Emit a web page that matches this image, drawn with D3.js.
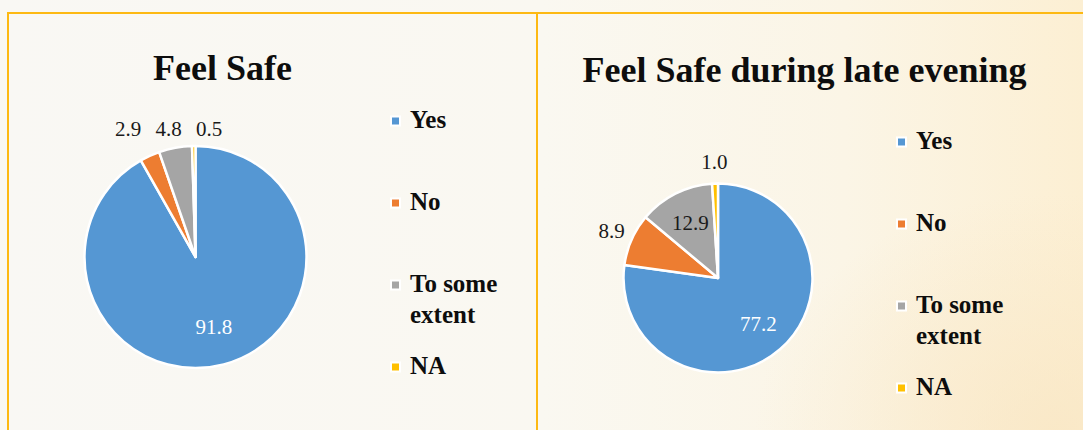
<!DOCTYPE html>
<html>
<head>
<meta charset="utf-8">
<script src="https://cdn.jsdelivr.net/npm/d3@7"></script>
<style>
  html, body { margin: 0; padding: 0; background: #FAF8F2; }
  svg { display: block; }
</style>
</head>
<body>
<svg id="chart" width="1083" height="430"></svg>
<script>
// ---- data ----
const categories = ["Yes", "No", "To some extent", "NA"];
const feelSafe = [91.8, 2.9, 4.8, 0.5];
const feelSafeEvening = [77.2, 8.9, 12.9, 1.0];
const titles = ["Feel Safe", "Feel Safe during late evening"];

// ---- styles ----
const sliceColors = ["#5597D3", "#ED7D31", "#A5A5A5", "#FFC000"];
const borderColor = "#FDB913";
const serif = "'Liberation Serif', 'DejaVu Serif', serif";

const svg = d3.select("#chart");
const W = 1083, H = 430;

// background gradients
const defs = svg.append("defs");
const bg = defs.append("linearGradient").attr("id", "bg").attr("x1", "0").attr("x2", "1").attr("y1", "0").attr("y2", "0");
bg.append("stop").attr("offset", "0").attr("stop-color", "#F9F8F4");
bg.append("stop").attr("offset", "0.5").attr("stop-color", "#FAF8F1");
bg.append("stop").attr("offset", "0.78").attr("stop-color", "#FBF5E6");
bg.append("stop").attr("offset", "1").attr("stop-color", "#FCEFD3");
const warm = defs.append("radialGradient").attr("id", "warm").attr("cx", "0.95").attr("cy", "1").attr("r", "0.55");
warm.append("stop").attr("offset", "0").attr("stop-color", "#F9E6C3").attr("stop-opacity", 0.75);
warm.append("stop").attr("offset", "1").attr("stop-color", "#F9E6C3").attr("stop-opacity", 0);

svg.append("rect").attr("width", W).attr("height", H).attr("fill", "url(#bg)");
svg.append("rect").attr("x", 537).attr("width", W - 537).attr("height", H).attr("fill", "url(#warm)");

// panel borders
svg.append("path")
  .attr("d", `M8,${H + 5} L8,13 L${W + 5},13 M537,13 L537,${H + 5}`)
  .attr("fill", "none").attr("stroke", borderColor).attr("stroke-width", 2);

const panels = [
  { values: feelSafe, title: titles[0], titleX: 222.5, titleY: 80,
    cx: 195.5, cy: 257, r: 111, legendX: 391, legendY: 128 },
  { values: feelSafeEvening, title: titles[1], titleX: 804.5, titleY: 81.5,
    cx: 718, cy: 278, r: 94.5, legendX: 897, legendY: 149 }
];

const pie = d3.pie().sort(null).value(d => d.value).startAngle(0).endAngle(2 * Math.PI);

panels.forEach(p => {
  const g = svg.append("g");

  g.append("text")
    .attr("x", p.titleX).attr("y", p.titleY)
    .attr("text-anchor", "middle")
    .attr("font-family", serif).attr("font-weight", "bold").attr("font-size", 36)
    .attr("fill", "#0d0d0d")
    .text(p.title);

  const rows = categories.map((c, i) => ({ cat: c, value: p.values[i], color: sliceColors[i] }));
  const arcs = pie(rows);
  const arc = d3.arc().innerRadius(0).outerRadius(p.r);

  const pg = g.append("g").attr("transform", `translate(${p.cx},${p.cy})`);
  pg.selectAll("path").data(arcs).join("path")
    .attr("d", arc)
    .attr("fill", d => d.data.color)
    .attr("stroke", "#fff").attr("stroke-width", 2.5).attr("stroke-linejoin", "round");

  // labels
  const inArc = d3.arc().innerRadius(p.r * 0.65).outerRadius(p.r * 0.65);
  const outArc = d3.arc().innerRadius(p.r + 22).outerRadius(p.r + 22);
  const labels = arcs.map(d => {
    const inside = d.data.value >= 10;
    const [x, y] = (inside ? inArc : outArc).centroid(d);
    return { d, inside, x, y, text: d.data.value.toFixed(1),
      color: inside ? (d.data.cat === "Yes" ? "#ffffff" : "#1a1a1a") : "#1a1a1a" };
  });

  // spread colliding outside labels horizontally (like the spreadsheet's layout)
  const minGap = 40.5;
  const outs = labels.filter(l => !l.inside).sort((a, b) => a.x - b.x);
  let groups = outs.map(l => [l]);
  let merged = true;
  while (merged) {
    merged = false;
    for (let i = 0; i < groups.length - 1; i++) {
      const a = groups[i], b = groups[i + 1];
      const ax = d3.mean(a, l => l.x) + (a.length - 1) * minGap / 2;
      const bx = d3.mean(b, l => l.x) - (b.length - 1) * minGap / 2;
      const close = bx - ax < minGap && Math.abs(d3.mean(a, l => l.y) - d3.mean(b, l => l.y)) < 30;
      if (close) { groups.splice(i, 2, a.concat(b)); merged = true; break; }
    }
  }
  groups.forEach(gr => {
    if (gr.length < 2) return;
    const mx = d3.mean(gr, l => l.x), my = d3.mean(gr, l => l.y);
    gr.forEach((l, k) => { l.x = mx + (k - (gr.length - 1) / 2) * minGap; l.y = my; });
  });

  pg.selectAll("text.lbl").data(labels).join("text")
    .attr("class", "lbl")
    .attr("x", l => l.x).attr("y", l => l.y)
    .attr("dy", "0.33em")
    .attr("text-anchor", "middle")
    .attr("font-family", serif).attr("font-size", 21)
    .attr("fill", l => l.color)
    .text(l => l.text);

  // legend
  const lg = g.append("g").attr("transform", `translate(${p.legendX},${p.legendY})`);
  const item = lg.selectAll("g").data(rows).join("g")
    .attr("transform", (d, i) => `translate(0,${i * 82})`);
  item.append("rect")
    .attr("x", 0).attr("y", -11.5).attr("width", 9).attr("height", 9)
    .attr("fill", d => d.color).attr("stroke", "#fff").attr("stroke-width", 2);
  item.append("text")
    .attr("x", 19).attr("y", 0)
    .attr("font-family", serif).attr("font-weight", "bold").attr("font-size", 25)
    .attr("fill", "#0d0d0d")
    .each(function(d) {
      const words = d.cat.split(" ");
      const lines = words.length > 2 ? [words.slice(0, 2).join(" "), words.slice(2).join(" ")] : [d.cat];
      d3.select(this).selectAll("tspan").data(lines).join("tspan")
        .attr("x", 19).attr("dy", (t, j) => j === 0 ? 0 : 31)
        .text(t => t);
    });
});
</script>
</body>
</html>
